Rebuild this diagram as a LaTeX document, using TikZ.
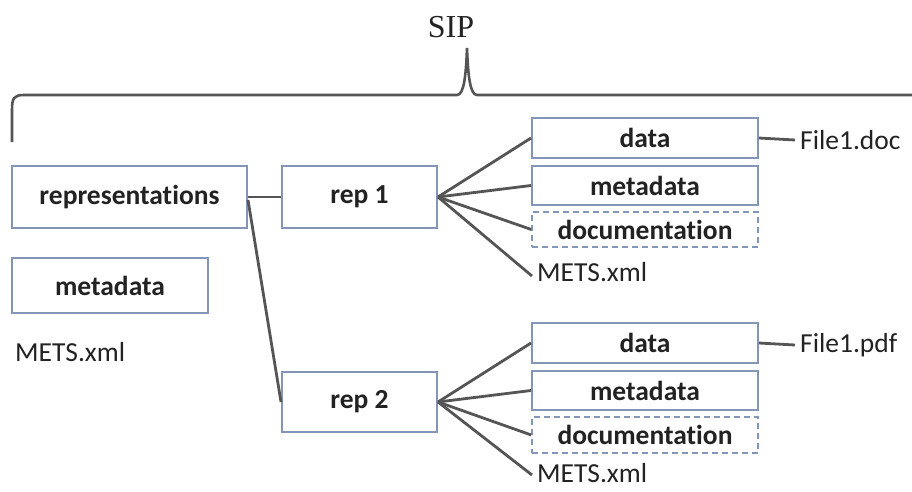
\documentclass[tikz,border=0pt]{standalone}
\usepackage{fontspec}
\setmainfont[Ligatures={NoCommon}]{Carlito}
\newfontfamily\sipfont{Liberation Serif}
\definecolor{boxblue}{HTML}{8496B8}
\definecolor{lineg}{HTML}{555555}
\definecolor{txt}{HTML}{222222}
\begin{document}
\begin{tikzpicture}[x=1pt,y=-1pt,
  box/.style={draw=boxblue,line width=2pt,fill=white,text=txt,minimum width=#1,inner sep=0pt,font=\fontsize{27.5}{29}\selectfont\bfseries},
  fbox/.style={box=226pt},
  dbox/.style={fbox,dashed,dash pattern=on 6pt off 4pt,line width=1.4pt},
  plain/.style={inner sep=0pt,text=txt,font=\fontsize{27.5}{29}\selectfont},
  conn/.style={draw=lineg,line width=2.8pt}]
\useasboundingbox (0,0) rectangle (912,491);
% brace
\node[inner sep=0pt,text=txt,font=\sipfont\fontsize{32}{34}\selectfont] (sip) at (451,27) {SIP};
\draw[lineg,line width=2.6pt] (12,142) -- (12,110) .. controls (12,98) and (14,95) .. (24,95)
  -- (457,95) .. controls (464,95) and (466,75) .. (467,48)
  .. controls (468,75) and (470,95) .. (477,95) -- (912,95);
% left column
\node[box=235pt,minimum height=62pt] (repr) at (129.5,197) {representations};
\node[box=196pt,minimum height=55pt] (meta0) at (110,285.5) {metadata};
\node[plain,anchor=west] (mets0) at (15,352) {METS.xml};
% reps
\node[box=155pt,minimum height=62pt] (rep1) at (359.5,197) {rep 1};
\node[box=155pt,minimum height=60pt] (rep2) at (359.5,402) {rep 2};
% rep1 children
\node[fbox,minimum height=40pt] (data1) at (645,138) {data};
\node[fbox,minimum height=39pt] (meta1) at (645,185.5) {metadata};
\node[dbox,minimum height=35pt] (doc1) at (645,229.5) {documentation};
\node[plain,anchor=west,inner xsep=5pt] (mets1) at (532,272) {METS.xml};
\node[plain,anchor=west,inner xsep=5pt] (file1) at (795,140) {File1.doc};
% rep2 children
\node[fbox,minimum height=40pt] (data2) at (645,343) {data};
\node[fbox,minimum height=39pt] (meta2) at (645,390.5) {metadata};
\node[dbox,minimum height=36pt] (doc2) at (645,435) {documentation};
\node[plain,anchor=west,inner xsep=5pt] (mets2) at (532,473) {METS.xml};
\node[plain,anchor=west,inner xsep=5pt] (file2) at (795,345) {File1.pdf};
% connectors
\draw[conn] (repr.east) -- (rep1.west);
\draw[conn] ([yshift=-3pt]repr.east) -- (rep2.west);
\foreach \t in {data1,meta1,doc1} \draw[conn] (rep1.east) -- (\t.west);
\draw[conn] (rep1.east) -- ([yshift=-4pt]mets1.west);
\foreach \t in {data2,meta2,doc2} \draw[conn] (rep2.east) -- (\t.west);
\draw[conn] (rep2.east) -- ([yshift=-2pt]mets2.west);
\draw[conn] (data1.east) -- (file1.west);
\draw[conn] (data2.east) -- (file2.west);
\end{tikzpicture}
\end{document}
